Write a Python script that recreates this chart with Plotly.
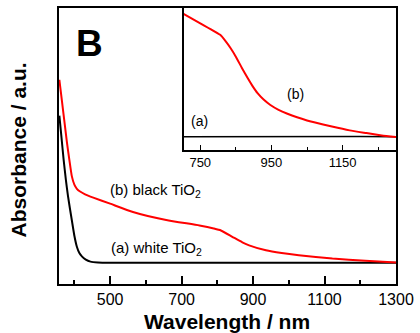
import plotly.graph_objects as go

# ---- main panel data (wavelength nm, absorbance a.u.) ----
black_wl = [358, 364, 370, 376, 382, 388, 393, 400, 407, 414, 421, 432, 445, 466, 500, 700, 900, 1100, 1300]
black_abs = [0.610, 0.530, 0.450, 0.380, 0.320, 0.270, 0.230, 0.175, 0.135, 0.112, 0.100, 0.088,
             0.081, 0.078, 0.077, 0.077, 0.077, 0.077, 0.077]

red_wl = [358, 365, 372, 379, 386, 393, 400, 407, 416, 430, 453, 500, 564, 657, 750, 790, 810, 842,
          870, 889, 936, 980, 1028, 1122, 1214, 1300]
red_abs = [0.740, 0.665, 0.590, 0.515, 0.450, 0.390, 0.360, 0.345, 0.335, 0.325, 0.313, 0.291, 0.261,
           0.232, 0.212, 0.201, 0.194, 0.171, 0.151, 0.140, 0.122, 0.112, 0.104, 0.092, 0.084, 0.078]

# ---- inset data ----
inset_red_wl = [703, 755, 806, 820, 835, 850, 867, 884, 897, 911, 928, 947, 970, 995, 1022, 1050,
                1070, 1120, 1170, 1217, 1260, 1300]
inset_red_abs = [0.958, 0.885, 0.811, 0.770, 0.718, 0.657, 0.578, 0.503, 0.450, 0.400, 0.355, 0.317,
                 0.283, 0.255, 0.230, 0.208, 0.195, 0.165, 0.138, 0.119, 0.102, 0.091]
inset_black_wl = [703, 800, 900, 1000, 1100, 1200, 1300]
inset_black_abs = [0.094, 0.095, 0.094, 0.095, 0.094, 0.095, 0.094]

main_ticks = [500, 700, 900, 1100, 1300]
main_minor = [400, 600, 800, 1000, 1200]
inset_ticks = [750, 950, 1150]
inset_minor = [850, 1050, 1250]

FONT = "Arial, Liberation Sans, sans-serif"
RED = "#ff0000"

fig = go.Figure()
fig.add_trace(go.Scatter(x=black_wl, y=black_abs, mode="lines",
                         line=dict(color="black", width=2, shape="spline", smoothing=0.5)))
fig.add_trace(go.Scatter(x=red_wl, y=red_abs, mode="lines",
                         line=dict(color=RED, width=2, shape="spline", smoothing=0.5)))
fig.add_trace(go.Scatter(x=inset_black_wl, y=inset_black_abs, mode="lines", xaxis="x2", yaxis="y2",
                         line=dict(color="black", width=1.5)))
fig.add_trace(go.Scatter(x=inset_red_wl, y=inset_red_abs, mode="lines", xaxis="x2", yaxis="y2",
                         line=dict(color=RED, width=2, shape="spline", smoothing=0.4)))

fig.update_layout(
    width=420, height=333,
    margin=dict(l=59, r=20, t=6, b=49),
    paper_bgcolor="white", plot_bgcolor="white",
    showlegend=False,
    font=dict(family=FONT, color="black"),
    xaxis=dict(range=[357, 1300], showline=True, linecolor="black", linewidth=2, mirror=True,
               ticks="inside", ticklen=8, tickwidth=1.5, tickcolor="black",
               tickvals=main_ticks, tickfont=dict(size=16, family=FONT),
               minor=dict(tickvals=main_minor, ticks="inside", ticklen=4, tickwidth=1.5, tickcolor="black"),
               showgrid=False, zeroline=False),
    yaxis=dict(range=[0, 1], showline=True, linecolor="black", linewidth=2, mirror=True,
               showticklabels=False, ticks="", showgrid=False, zeroline=False),
    xaxis2=dict(domain=[0.3695, 1], anchor="y2", range=[703, 1300], showline=True,
                linecolor="black", linewidth=1.5, mirror=True,
                ticks="inside", ticklen=5, tickwidth=1.2, tickcolor="black",
                tickvals=inset_ticks, tickfont=dict(size=13, family=FONT),
                minor=dict(tickvals=inset_minor, ticks="inside", ticklen=3, tickwidth=1.2, tickcolor="black"),
                showgrid=False, zeroline=False),
    yaxis2=dict(domain=[0.4856, 1], anchor="x2", range=[0, 1], showline=True,
                linecolor="black", linewidth=1.5, mirror=True,
                showticklabels=False, ticks="", showgrid=False, zeroline=False),
)

ann = [
    dict(text="<b>B</b>", x=0.091, y=0.870, size=37),
    dict(text="(b) black TiO<sub>2</sub>", x=0.145, y=0.338, size=15, xanchor="left"),
    dict(text="(a) white TiO<sub>2</sub>", x=0.148, y=0.1295, size=15, xanchor="left"),
    dict(text="(a)", x=0.418, y=0.590, size=14),
    dict(text="(b)", x=0.701, y=0.687, size=14),
    dict(text="<b>Wavelength / nm</b>", x=0.4985, y=-0.137, size=21),
]
for a in ann:
    fig.add_annotation(text=a["text"], x=a["x"], y=a["y"], xref="paper", yref="paper",
                       showarrow=False, xanchor=a.get("xanchor", "center"), yanchor="middle",
                       font=dict(size=a["size"], family=FONT, color="black"))
fig.add_annotation(text="<b>Absorbance / a.u.</b>", x=-0.120, y=0.486, xref="paper", yref="paper",
                   showarrow=False, textangle=-90, xanchor="center", yanchor="middle",
                   font=dict(size=21, family=FONT, color="black"))

fig.write_html("out.html")
